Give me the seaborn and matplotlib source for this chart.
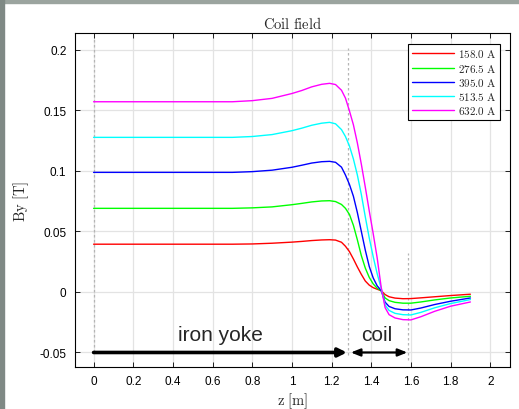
"""
Coil field By(z) for several coil currents
"""

import numpy as np
import pandas as pd
import matplotlib
matplotlib.use('Agg')
import matplotlib.pyplot as plt
from matplotlib.patches import Rectangle
import seaborn as sns

# sample positions along z [m]
z = [0.0, 0.2, 0.4, 0.6, 0.7, 0.8, 0.9, 1.0, 1.05, 1.1, 1.15, 1.19, 1.22, 1.25,
     1.27, 1.29, 1.31, 1.33, 1.35, 1.37, 1.39, 1.41, 1.43, 1.45, 1.47, 1.49,
     1.52, 1.56, 1.6, 1.65, 1.72, 1.8, 1.9]

# By [T] for each current
by_158 = [0.0394, 0.0394, 0.0394, 0.0394, 0.0394, 0.0396, 0.0402, 0.0411, 0.0417,
          0.0424, 0.0429, 0.0431, 0.0428, 0.0410, 0.0377, 0.0333, 0.0272, 0.0206,
          0.0145, 0.0090, 0.0056, 0.0035, 0.0022, 0.0010, -0.0022, -0.0040,
          -0.0051, -0.0056, -0.0055, -0.0049, -0.0040, -0.0030, -0.0019]
by_276 = [0.0690, 0.0690, 0.0690, 0.0690, 0.0690, 0.0694, 0.0702, 0.0720, 0.0731,
          0.0743, 0.0751, 0.0753, 0.0746, 0.0722, 0.0690, 0.0640, 0.0550, 0.0430,
          0.0300, 0.0197, 0.0120, 0.0066, 0.0030, 0.0010, -0.0050, -0.0072,
          -0.0086, -0.0093, -0.0093, -0.0083, -0.0066, -0.0050, -0.0036]
by_395 = [0.0987, 0.0987, 0.0987, 0.0987, 0.0987, 0.0993, 0.1005, 0.1029, 0.1046,
          0.1064, 0.1075, 0.1078, 0.1070, 0.1030, 0.0965, 0.0888, 0.0790, 0.0655,
          0.0500, 0.0345, 0.0210, 0.0115, 0.0050, 0.0012, -0.0085, -0.0120,
          -0.0139, -0.0148, -0.0149, -0.0133, -0.0104, -0.0077, -0.0050]
by_513 = [0.1276, 0.1276, 0.1276, 0.1276, 0.1276, 0.1283, 0.1299, 0.1331, 0.1352,
          0.1376, 0.1393, 0.1400, 0.1388, 0.1340, 0.1283, 0.1205, 0.1098, 0.0965,
          0.0805, 0.0620, 0.0445, 0.0290, 0.0150, 0.0030, -0.0108, -0.0153,
          -0.0177, -0.0188, -0.0190, -0.0169, -0.0131, -0.0096, -0.0063]
by_632 = [0.1570, 0.1570, 0.1570, 0.1570, 0.1570, 0.1579, 0.1598, 0.1638, 0.1663,
          0.1693, 0.1714, 0.1722, 0.1712, 0.1665, 0.1600, 0.1495, 0.1380, 0.1230,
          0.1055, 0.0865, 0.0668, 0.0480, 0.0280, 0.0040, -0.0130, -0.0188,
          -0.0215, -0.0229, -0.0231, -0.0205, -0.0160, -0.0118, -0.0083]

currents = ['158.0 A', '276.5 A', '395.0 A', '513.5 A', '632.0 A']
colors = ['#ff0000', '#00ff00', '#0000ff', '#00ffff', '#ff00ff']

x_ticks = [0, 0.2, 0.4, 0.6, 0.8, 1.0, 1.2, 1.4, 1.6, 1.8, 2.0]
x_tick_labels = ['0', '0.2', '0.4', '0.6', '0.8', '1', '1.2', '1.4', '1.6', '1.8', '2']
y_ticks = [-0.05, 0, 0.05, 0.1, 0.15, 0.2]
y_tick_labels = ['-0.05', '0', '0.05', '0.1', '0.15', '0.2']

# region markers
yoke_end = 1.277
coil_start = 1.297
coil_end = 1.582

sns.set_style('ticks')
plt.rcParams['font.family'] = ['Liberation Sans', 'DejaVu Sans']
plt.rcParams['mathtext.fontset'] = 'cm'

df = pd.DataFrame({
    'z': z * 5,
    'By': by_158 + by_276 + by_395 + by_513 + by_632,
    'current': sum([[c] * len(z) for c in currents], []),
})

fig = plt.figure(figsize=(5.19, 4.10), dpi=100)
fig.patch.set_facecolor('white')
# grey window edge seen at top/left of the screenshot
fig.patches.append(Rectangle((0, 1 - 4 / 410), 1, 4 / 410, transform=fig.transFigure,
                             color='#9ba49f', zorder=0))
fig.patches.append(Rectangle((0, 0), 4 / 519, 1, transform=fig.transFigure,
                             color='#7f8985', zorder=0))

ax = fig.add_axes([0.144, 0.1024, 0.8388, 0.8139])

sns.lineplot(data=df, x='z', y='By', hue='current', palette=colors,
             linewidth=1.0, ax=ax, sort=False)

ax.set_xlim(-0.095, 2.1)
ax.set_ylim(-0.062, 0.2135)
ax.set_xticks(x_ticks)
ax.set_xticklabels(x_tick_labels)
ax.set_yticks(y_ticks)
ax.set_yticklabels(y_tick_labels)
ax.tick_params(direction='in', length=3.5, width=0.6, top=True, right=True,
               labelsize=8.5, colors='black', pad=6)
ax.grid(True, color='#e3e3e3', linewidth=0.9)
ax.set_axisbelow(True)
for s in ax.spines.values():
    s.set_color('black')
    s.set_linewidth(0.8)

ax.set_title(r'$\mathrm{Coil\ field}$', fontsize=10.5, pad=4)
ax.set_xlabel(r'$\mathrm{z\ [m]}$', fontsize=10.5, labelpad=2)
ax.set_ylabel(r'$\mathrm{By\ [T]}$', fontsize=10.5, labelpad=6)

# dotted region boundaries
ax.plot([0, 0], [-0.05, 0.21], color='#b5b5b5', lw=0.9, ls=(0, (2, 2)), zorder=1)
ax.plot([1.282, 1.282], [-0.052, 0.201], color='#b5b5b5', lw=0.9, ls=(0, (2, 2)), zorder=1)
ax.plot([1.586, 1.586], [-0.056, 0.032], color='#b5b5b5', lw=0.9, ls=(0, (2, 2)), zorder=1)

# arrows and region labels
ax.annotate('', xy=(yoke_end, -0.05), xytext=(0.0, -0.05),
            arrowprops=dict(arrowstyle='-|>,head_length=0.5,head_width=0.25',
                            lw=2.6, color='black', shrinkA=0, shrinkB=0))
ax.annotate('', xy=(coil_end, -0.05), xytext=(coil_start, -0.05),
            arrowprops=dict(arrowstyle='<|-|>,head_length=0.55,head_width=0.22',
                            lw=1.6, color='black', shrinkA=0, shrinkB=0))
ax.text(0.638, -0.035, 'iron yoke', fontsize=15, ha='center', va='center')
ax.text(1.428, -0.035, 'coil', fontsize=15, ha='center', va='center')

handles, labels = ax.get_legend_handles_labels()
leg = ax.legend(handles, [r'$\mathrm{%s}$' % l.replace(' ', r'\ ') for l in labels],
                loc='upper right', bbox_to_anchor=(0.977, 0.968), borderaxespad=0,
                fontsize=8, frameon=True, fancybox=False, framealpha=1,
                edgecolor='black', handlelength=3.8, handletextpad=0.4,
                labelspacing=0.2, borderpad=0.3)
leg.get_frame().set_linewidth(0.8)

plt.savefig('out.png', dpi=100)
plt.close()
